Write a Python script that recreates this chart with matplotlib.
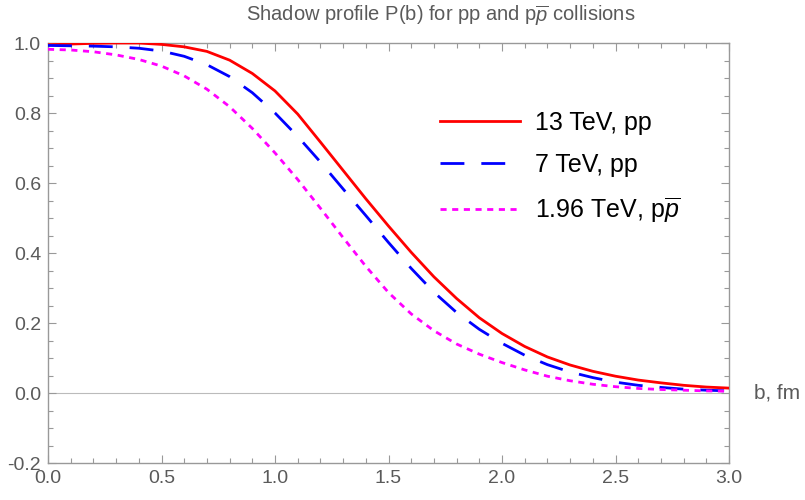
import numpy as np
import matplotlib
matplotlib.use("Agg")
import matplotlib.pyplot as plt
from matplotlib.ticker import MultipleLocator, FormatStrFormatter
from matplotlib.transforms import blended_transform_factory

plt.rcParams['font.family'] = ['Liberation Sans', 'DejaVu Sans']
plt.rcParams['mathtext.fontset'] = 'custom'
plt.rcParams['mathtext.rm'] = 'Liberation Sans'
plt.rcParams['mathtext.it'] = 'Liberation Sans:italic'

b = [0.0, 0.1, 0.2, 0.3, 0.4, 0.5, 0.6, 0.7, 0.8, 0.9, 1.0,
     1.1, 1.2, 1.3, 1.4, 1.5, 1.6, 1.7, 1.8, 1.9, 2.0,
     2.1, 2.2, 2.3, 2.4, 2.5, 2.6, 2.7, 2.8, 2.9, 3.0]

p_13tev = [0.995, 0.997, 0.999, 1.0, 1.0, 0.996, 0.989, 0.976, 0.951, 0.913, 0.863,
           0.797, 0.717, 0.636, 0.555, 0.477, 0.402, 0.332, 0.270, 0.215, 0.170,
           0.133, 0.103, 0.080, 0.062, 0.048, 0.037, 0.029, 0.022, 0.017, 0.014]

p_7tev = [0.993, 0.992, 0.991, 0.989, 0.985, 0.977, 0.962, 0.938, 0.904, 0.858, 0.800,
          0.733, 0.660, 0.583, 0.507, 0.430, 0.356, 0.288, 0.230, 0.182, 0.142,
          0.108, 0.081, 0.060, 0.044, 0.031, 0.022, 0.016, 0.011, 0.008, 0.006]

p_196tev = [0.982, 0.980, 0.975, 0.966, 0.953, 0.934, 0.906, 0.868, 0.818, 0.756, 0.686,
            0.610, 0.528, 0.444, 0.362, 0.287, 0.226, 0.178, 0.140, 0.111, 0.087,
            0.066, 0.048, 0.035, 0.025, 0.018, 0.013, 0.010, 0.008, 0.006, 0.005]

labels = ["13 TeV, pp", "7 TeV, pp", r"1.96 TeV, p$\overline{\mathit{p}}$"]
title = r"Shadow profile P(b) for pp and p$\overline{\mathit{p}}$ collisions"

fig = plt.figure(figsize=(8.05, 5.0), dpi=100)
ax = fig.add_axes([48/805, 37/500, (729-48)/805, (463-43)/500])

gray = '#999999'
lab = '#5a5a5a'

ax.axhline(0, color='#bbbbbb', lw=0.8, zorder=1)

ax.plot(b, p_13tev, color='#ff0000', lw=2.0, label=labels[0], zorder=3)
ax.plot(b, p_7tev, color='#0000ff', lw=2.0, dashes=(8.6, 6.1), label=labels[1], zorder=3)
ax.plot(b, p_196tev, color='#ff00ff', lw=2.0, dashes=(2.2, 2.0), label=labels[2], zorder=3)

ax.set_xlim(0, 3.0)
ax.set_ylim(-0.2, 1.0)
ax.xaxis.set_major_locator(MultipleLocator(0.5))
ax.xaxis.set_minor_locator(MultipleLocator(0.1))
ax.yaxis.set_major_locator(MultipleLocator(0.2))
ax.yaxis.set_minor_locator(MultipleLocator(0.05))
ax.xaxis.set_major_formatter(FormatStrFormatter('%.1f'))
ax.yaxis.set_major_formatter(FormatStrFormatter('%.1f'))

for s in ax.spines.values():
    s.set_color(gray)
    s.set_linewidth(1.0)
ax.tick_params(which='both', direction='in', top=True, right=True, color=gray, width=0.8)
ax.tick_params(which='major', length=6, labelsize=14, labelcolor=lab, pad=5)
ax.tick_params(which='minor', length=3.5)

fig.text(441/805, 1 - 16/500, title, fontsize=14.5, color=lab, ha='center', va='center')

ax.text(754/805, 0.0, "b, fm", transform=blended_transform_factory(fig.transFigure, ax.transData),
        fontsize=15, color=lab, va='center', ha='left')

leg = ax.legend(loc='upper left', bbox_to_anchor=(440/805, (500-111)/500),
                bbox_transform=fig.transFigure, frameon=False, fontsize=18,
                handlelength=3.2, handletextpad=0.6, labelspacing=0.72, borderaxespad=0,
                borderpad=0)

fig.savefig('out.png', dpi=100)
